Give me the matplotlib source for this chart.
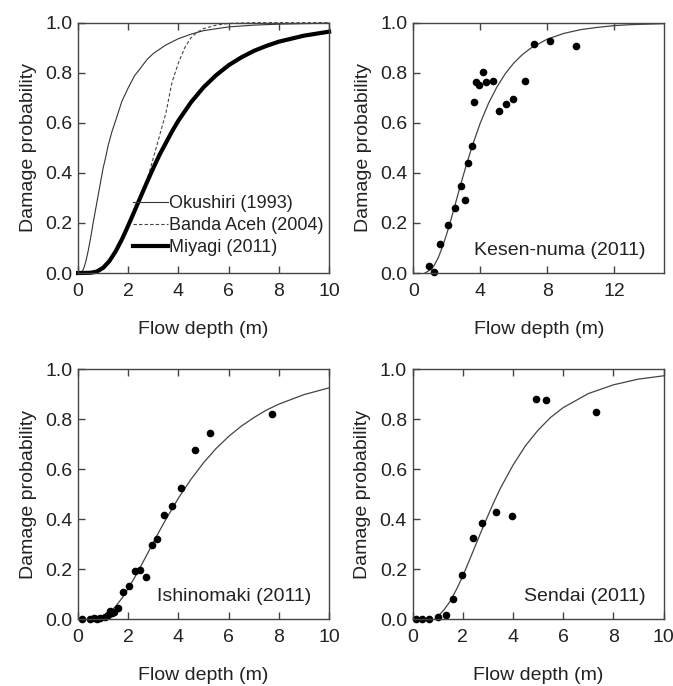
import matplotlib
matplotlib.use('Agg')
import matplotlib.pyplot as plt

plt.rcParams['font.family'] = ['Liberation Sans', 'DejaVu Sans']

# --- panel (a): fragility curves ---
okushiri_x = [0.0, 0.15, 0.2, 0.25, 0.3, 0.35, 0.4, 0.5, 0.6, 0.7, 0.8, 0.9, 1.0, 1.1, 1.2, 1.35, 1.5, 1.75, 2.0, 2.25, 2.5, 2.75,
              3.0, 3.5, 4.0, 4.5, 5.0, 6.0, 7.0, 8.0, 10.0]
okushiri_y = [0.0, 0.005, 0.013, 0.026, 0.043, 0.064, 0.087, 0.14, 0.20, 0.255, 0.31, 0.365, 0.42, 0.463, 0.51, 0.565, 0.61, 0.687,
              0.74, 0.788, 0.82, 0.853, 0.877, 0.911, 0.936, 0.954, 0.968, 0.983, 0.990, 0.994, 0.998]

banda_x = [0.0, 0.3, 0.5, 0.75, 1.0, 1.25, 1.5, 2.0, 2.25, 2.5, 2.65, 2.8, 3.0, 3.25, 3.5, 3.75, 4.0, 4.25, 4.5, 4.75, 5.0, 5.5,
           6.0, 7.0, 10.0]
banda_y = [0.0, 0.0, 0.002, 0.008, 0.022, 0.05, 0.088, 0.19, 0.248, 0.306, 0.345, 0.39, 0.46, 0.55, 0.64, 0.765, 0.84, 0.90, 0.94,
           0.962, 0.976, 0.99, 0.997, 1.0, 1.0]

miyagi_x = [0.0, 0.5, 0.75, 1.0, 1.25, 1.5, 1.75, 2.0, 2.25, 2.5, 2.75, 3.0, 3.25, 3.5, 3.75, 4.0, 4.5, 5.0, 5.5, 6.0, 6.5, 7.0,
            7.5, 8.0, 9.0, 10.0]
miyagi_y = [0.0, 0.001, 0.006, 0.021, 0.048, 0.087, 0.135, 0.19, 0.248, 0.306, 0.364, 0.42, 0.473, 0.52, 0.567, 0.609, 0.682,
            0.742, 0.79, 0.830, 0.861, 0.887, 0.907, 0.924, 0.948, 0.964]

legend_labels = ['Okushiri (1993)', 'Banda Aceh (2004)', 'Miyagi (2011)']

# --- Kesen-numa ---
kesen_pts_x = [0.94, 1.26, 1.6, 2.06, 2.48, 2.86, 3.08, 3.3, 3.5, 3.66, 3.76, 3.96, 4.14, 4.34, 4.76, 5.14, 5.56, 5.94, 6.66,
               7.24, 8.2, 9.7]
kesen_pts_y = [0.03, 0.003, 0.115, 0.19, 0.258, 0.347, 0.29, 0.441, 0.506, 0.682, 0.764, 0.752, 0.804, 0.762, 0.766, 0.646,
               0.674, 0.695, 0.768, 0.914, 0.927, 0.905]
kesen_fit_x = [0.7, 0.8, 1.0, 1.25, 1.5, 1.75, 2.0, 2.25, 2.5, 2.75, 3.0, 3.25, 3.5, 4.0, 4.5, 5.0, 5.5, 6.0, 6.5, 7.0, 8.0, 9.0,
               10.0, 11.0, 12.0, 13.0, 14.0, 15.0]
kesen_fit_y = [0.0, 0.004, 0.012, 0.03, 0.062, 0.105, 0.156, 0.212, 0.272, 0.333, 0.392, 0.448, 0.502, 0.598, 0.678, 0.743,
               0.796, 0.838, 0.871, 0.897, 0.934, 0.957, 0.972, 0.981, 0.988, 0.992, 0.994, 0.996]

# --- Ishinomaki ---
ishi_pts_x = [0.14, 0.46, 0.63, 0.76, 0.89, 1.06, 1.18, 1.28, 1.35, 1.45, 1.58, 1.80, 2.04, 2.26, 2.48, 2.69, 2.94, 3.16, 3.44,
              3.74, 4.12, 4.65, 5.26, 7.72]
ishi_pts_y = [0.0, 0.0, 0.004, 0.001, 0.007, 0.011, 0.017, 0.033, 0.024, 0.031, 0.047, 0.11, 0.135, 0.193, 0.197, 0.171, 0.297,
              0.321, 0.417, 0.452, 0.527, 0.675, 0.744, 0.819]
ishi_fit_x = [0.5, 0.75, 1.0, 1.25, 1.5, 1.75, 2.0, 2.25, 2.5, 2.75, 3.0, 3.25, 3.5, 4.0, 4.5, 5.0, 5.5, 6.0, 6.5, 7.0, 7.5, 8.0,
              9.0, 10.0]
ishi_fit_y = [0.0, 0.003, 0.012, 0.028, 0.053, 0.085, 0.124, 0.167, 0.213, 0.26, 0.308, 0.355, 0.40, 0.485, 0.56, 0.626, 0.683,
              0.731, 0.772, 0.806, 0.836, 0.860, 0.898, 0.925]

# --- Sendai ---
sendai_pts_x = [0.13, 0.36, 0.67, 1.0, 1.33, 1.61, 1.96, 2.39, 2.76, 3.31, 3.96, 4.92, 5.33, 7.32]
sendai_pts_y = [0.0, 0.0, 0.001, 0.011, 0.016, 0.083, 0.177, 0.325, 0.387, 0.43, 0.415, 0.88, 0.877, 0.827]
sendai_fit_x = [0.9, 1.0, 1.1, 1.25, 1.5, 1.75, 2.0, 2.25, 2.5, 2.75, 3.0, 3.25, 3.5, 4.0, 4.5, 5.0, 5.5, 6.0, 7.0, 8.0, 9.0, 10.0]
sendai_fit_y = [0.0, 0.012, 0.022, 0.038, 0.073, 0.12, 0.173, 0.233, 0.294, 0.355, 0.414, 0.471, 0.524, 0.616, 0.694, 0.756,
                0.807, 0.846, 0.902, 0.937, 0.960, 0.973]

text_col = '#222222'
line_col = '#444444'


def style_axes(ax, xmax, xticks):
    ax.set_xlim(0, xmax)
    ax.set_ylim(0, 1.0)
    ax.set_xticks(xticks)
    ax.set_yticks([0.0, 0.2, 0.4, 0.6, 0.8, 1.0])
    ax.set_yticklabels(['0.0', '0.2', '0.4', '0.6', '0.8', '1.0'])
    ax.tick_params(axis='x', direction='in', length=5, width=1, top=True,
                   pad=7, labelsize=14, colors=line_col, labelcolor=text_col)
    ax.tick_params(axis='y', direction='in', length=5, width=1, right=False,
                   pad=4, labelsize=14, colors=line_col, labelcolor=text_col)
    for s in ax.spines.values():
        s.set_color(line_col)
        s.set_linewidth(1.0)
    ax.set_xlabel('Flow depth (m)', fontsize=14, color=text_col, labelpad=15)
    ax.set_ylabel('Damage probability', fontsize=14, color=text_col, labelpad=6)


fig = plt.figure(figsize=(6.73, 6.86), dpi=100)
w, h = 0.373, 0.365
ax1 = fig.add_axes([0.116, 0.602, w, h])
ax2 = fig.add_axes([0.614, 0.602, w, h])
ax3 = fig.add_axes([0.116, 0.097, w, h])
ax4 = fig.add_axes([0.613, 0.097, w, h])

# panel 1
ax1.plot(okushiri_x, okushiri_y, color='#333333', lw=0.8, label=legend_labels[0])
ax1.plot(banda_x, banda_y, color='#444444', lw=0.8, ls=(0, (3, 2)), label=legend_labels[1])
ax1.plot(miyagi_x, miyagi_y, color='black', lw=3.0, label=legend_labels[2])
style_axes(ax1, 10, [0, 2, 4, 6, 8, 10])
ax1.legend(loc='lower right', bbox_to_anchor=(1.015, 0.03), frameon=False,
           fontsize=13, handlelength=1.9, handletextpad=0.1,
           labelspacing=0.28, borderpad=0, labelcolor=text_col)

# panel 2
ax2.plot(kesen_fit_x, kesen_fit_y, color='#444444', lw=0.9)
ax2.plot(kesen_pts_x, kesen_pts_y, 'o', color='black', ms=5.5, mec='none')
style_axes(ax2, 15, [0, 4, 8, 12])
ax2.text(0.925, 0.09, 'Kesen-numa (2011)', transform=ax2.transAxes,
         ha='right', va='center', fontsize=14, color=text_col)

# panel 3
ax3.plot(ishi_fit_x, ishi_fit_y, color='#444444', lw=0.9)
ax3.plot(ishi_pts_x, ishi_pts_y, 'o', color='black', ms=5.5, mec='none')
style_axes(ax3, 10, [0, 2, 4, 6, 8, 10])
ax3.text(0.93, 0.09, 'Ishinomaki (2011)', transform=ax3.transAxes,
         ha='right', va='center', fontsize=14, color=text_col)

# panel 4
ax4.plot(sendai_fit_x, sendai_fit_y, color='#444444', lw=0.9)
ax4.plot(sendai_pts_x, sendai_pts_y, 'o', color='black', ms=5.5, mec='none')
style_axes(ax4, 10, [0, 2, 4, 6, 8, 10])
ax4.text(0.93, 0.09, 'Sendai (2011)', transform=ax4.transAxes,
         ha='right', va='center', fontsize=14, color=text_col)

for ax in (ax1, ax2, ax3, ax4):
    for ln in ax.lines:
        ln.set_clip_on(False)

fig.savefig('out.png', dpi=100, facecolor='white')
